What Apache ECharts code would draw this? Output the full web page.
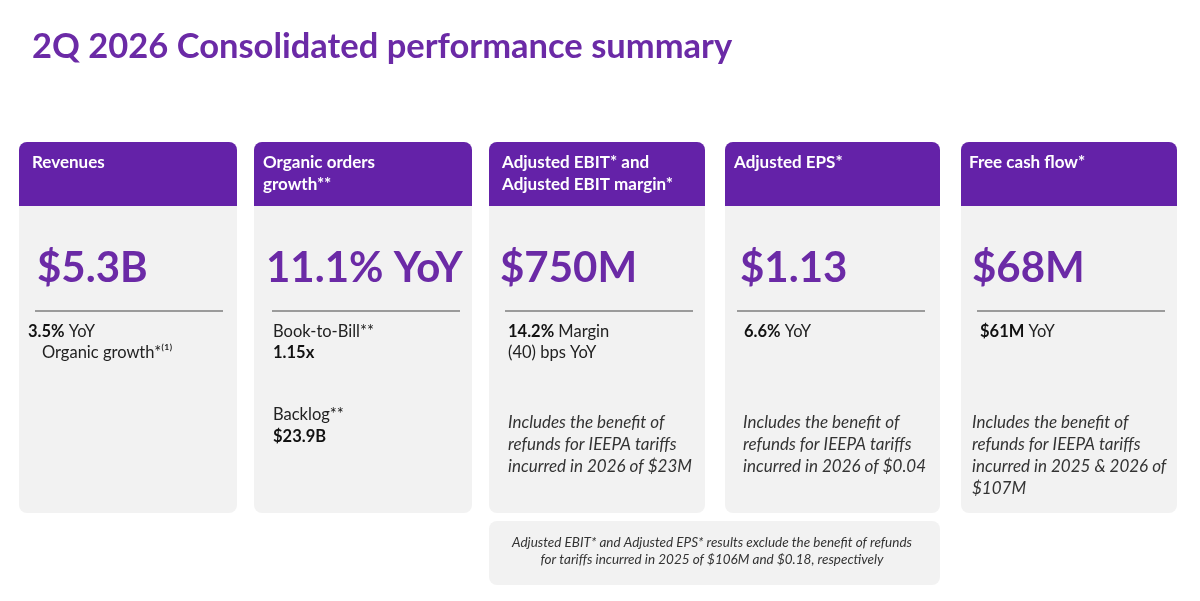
<!DOCTYPE html>
<html><head><meta charset="utf-8">
<script src="https://cdn.jsdelivr.net/npm/echarts@6/dist/echarts.min.js"></script>
<style>html,body{margin:0;padding:0;background:#fff}#c{width:1200px;height:601px}</style>
</head><body><div id="c"></div>
<script>
const titleText = "2Q 2026 Consolidated performance summary";
const cardHeaders = ["Revenues", "Organic orders\ngrowth**", "Adjusted EBIT* and\nAdjusted EBIT margin*", "Adjusted EPS*", "Free cash flow*"];
const bigValues = ["$5.3B", "11.1% YoY", "$750M", "$1.13", "$68M"];
const subLines = [
  ["{b|3.5%} YoY", "Organic growth*⁽¹⁾"],
  ["Book-to-Bill**", "{b|1.15x}"],
  ["{b|14.2%} Margin", "(40) bps YoY"],
  ["{b|6.6%} YoY"],
  ["{b|$61M} YoY"]
];
const extraLines = [
  [],
  ["Backlog**", "{b|$23.9B}"],
  ["Includes the benefit of", "refunds for IEEPA tariffs", "incurred in 2026 of $23M"],
  ["Includes the benefit of", "refunds for IEEPA tariffs", "incurred in 2026 of $0.04"],
  ["Includes the benefit of", "refunds for IEEPA tariffs", "incurred in 2025 & 2026 of", "$107M"]
];
const footnote = "Adjusted EBIT* and Adjusted EPS* results exclude the benefit of refunds\nfor tariffs incurred in 2025 of $106M and $0.18, respectively";

const cardX = [19, 254, 489, 725, 961];
const cardW = [218, 218, 216, 215, 216];
const headerX = [13, 9, 13, 9, 8];
const valueX = [18, 12, 11, 15, 11];
const lineX = [16, 18, 16, 12, 16];
const italicX = [0, 0, 19, 18, 11];
const F = "Lato, 'Noto Sans', sans-serif";
const purple = "#6422a8", valColor = "#6b2aa6", gray = "#f2f2f2";
const els = [];
els.push({type:'text', left:32, top:29, style:{text:titleText, font:"bold 34.5px "+F, fill:valColor}});
cardX.forEach((x, i) => {
  const w = cardW[i];
  els.push({type:'rect', shape:{x:x, y:142, width:w, height:371, r:8}, style:{fill:gray}});
  els.push({type:'rect', shape:{x:x, y:142, width:w, height:64, r:[8,8,0,0]}, style:{fill:purple}});
  els.push({type:'text', x:x+headerX[i], y:152, style:{text:cardHeaders[i], font:"bold 17px "+F, fill:"#fff", lineHeight:22}});
  els.push({type:'text', x:x+valueX[i], y:268, style:{text:bigValues[i], font:"bold 42px "+F, fill:valColor, textVerticalAlign:'middle'}});
  els.push({type:'line', shape:{x1:x+lineX[i], y1:311, x2:x+lineX[i]+188, y2:311}, style:{stroke:"#444", lineWidth:1}});
  const rich = {b:{fontWeight:'bold', fontFamily:F, fontSize:16.5, fill:'#111'}};
  subLines[i].forEach((t, j) => {
    const xx = i===0 ? (j===0 ? x+9 : x+23) : x+19;
    els.push({type:'text', x:xx, y:323+j*21, style:{rich:rich, text:t, font:"16.5px "+F, fill:"#222"}});
  });
  extraLines[i].forEach((t, j) => {
    if (i===1) {
      els.push({type:'text', x:x+19, y:406+j*22, style:{rich:rich, text:t, font:"16.5px "+F, fill:"#222"}});
    } else {
      els.push({type:'text', x:x+italicX[i], y:414+j*22, style:{text:t, font:"italic 17px "+F, fill:"#333"}});
    }
  });
});
els.push({type:'rect', shape:{x:489, y:521, width:451, height:64, r:8}, style:{fill:gray}});
els.push({type:'text', x:712, y:551, style:{text:footnote, font:"italic 13.5px "+F, fill:"#333", textAlign:'center', textVerticalAlign:'middle', lineHeight:17}});

const chart = echarts.init(document.getElementById('c'));
chart.setOption({backgroundColor:'#fff', graphic:{elements:els}});
</script></body></html>
